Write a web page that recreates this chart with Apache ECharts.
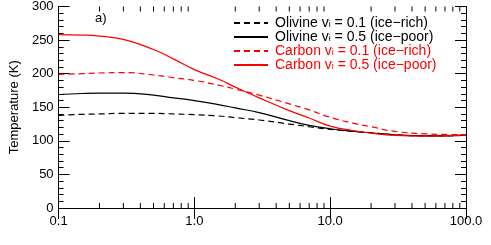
<!DOCTYPE html>
<html><head><meta charset="utf-8">
<script src="https://cdn.jsdelivr.net/npm/echarts@6/dist/echarts.min.js"></script>
<style>html,body{margin:0;padding:0;background:#fff}#c{width:491px;height:245px}</style>
</head><body><div id="c"></div>
<script>
const xValues = [0.1,0.15,0.2,0.3,0.5,0.7,1,1.5,2,3,5,7,10,15,20,30,50,70,100];
const olivineRich = [138,139.5,140,141,141,140,139,137,134.5,131,125,121,117,114,112,109,107.5,107.5,108.5];
const olivinePoor = [169,170.5,171,171,168,164,160,154,149,142,130,123,118,114,112,109,107.5,107.5,108.5];
const carbonRich = [199,200,201,201.5,198,194,190,183,177,168,155,146,135,126,121,114,110.5,109.5,109];
const carbonPoor = [258,257.5,256,251,236,222,206,192,180,164,145,134,122,115,111.5,108,107,107.5,109];
const seriesNames = ['Olivine v{s|i} = 0.1 (ice\u2212rich)','Olivine v{s|i} = 0.5 (ice\u2212poor)','Carbon v{s|i} = 0.1 (ice\u2212rich)','Carbon v{s|i} = 0.5 (ice\u2212poor)'];
const seriesColors = ['#000000','#000000','#ff0000','#ff0000'];
const seriesDash = ['dashed','solid','dashed','solid'];
const seriesValues = [olivineRich, olivinePoor, carbonRich, carbonPoor];
const xMin = 0.1, xMax = 100, yMin = 0, yMax = 300;
const majorX = [0.1,1,10,100];
const majorXLabels = ['0.1','1.0','10.0','100.0'];
const minorX = [0.2,0.3,0.4,0.5,0.6,0.7,0.8,0.9,2,3,4,5,6,7,8,9,20,30,40,50,60,70,80,90];

const font = 'Liberation Sans, Arial, Helvetica, sans-serif';
const chart = echarts.init(document.getElementById('c'), null, {renderer:'canvas'});
const rich = {s:{fontSize:9, lineHeight:13, verticalAlign:'bottom', padding:[4,0,0,0], fontFamily:font}};

const dataSeries = seriesNames.map((n,i)=>({
  name:n, type:'line', symbol:'none', smooth:true, xAxisIndex:0, yAxisIndex:0,
  data: xValues.map((x,j)=>[x, seriesValues[i][j]]),
  itemStyle:{color:seriesColors[i]},
  lineStyle:{color:seriesColors[i], width:1.2, type: seriesDash[i]==='dashed'?[6,4]:'solid'}
}));

function xAx(pos){
  return {type:'log', logBase:10, min:xMin, max:xMax, position:pos,
    axisLine:{show:true, lineStyle:{color:'#000', width:1}},
    splitLine:{show:false},
    axisTick:{show:true, inside:true, length:11, lineStyle:{color:'#000', width:1}},
    minorTick:{show:false},
    axisLabel:{show: pos==='bottom', margin:7, fontFamily:font, fontSize:13, color:'#000',
      formatter:(v)=>{const k = majorX.findIndex(m=>Math.abs(Math.log10(m)-Math.log10(v))<1e-6); return k>=0?majorXLabels[k]:'';}}};
}
function yAx(pos, step, len, main){
  return {type:'value', min:yMin, max:yMax, interval:step, position:pos,
    axisLine:{show:main, lineStyle:{color:'#000', width:1}},
    splitLine:{show:false},
    axisTick:{show:true, inside:true, length:len, lineStyle:{color:'#000', width:1}},
    axisLabel:{show: main && pos==='left', margin:5, fontFamily:font, fontSize:13, color:'#000'},
    name: (main && pos==='left') ? 'Temperature (K)' : '', nameLocation:'middle', nameGap:33,
    nameTextStyle:{fontFamily:font, fontSize:13, color:'#000'}};
}

const option = {
  animation:false,
  grid:{left:54, right:25, top:5, bottom:37},
  title:{text:'a)', left:90, top:7, textStyle:{fontFamily:font, fontSize:13, fontWeight:'normal', color:'#000'}},
  legend:{orient:'vertical', left:228, top:11, itemWidth:34, itemHeight:10, itemGap:0,
    itemStyle:{opacity:0},
    textStyle:{fontFamily:font, fontSize:14, lineHeight:13, padding:[0,0,0,2], rich:rich},
    data: seriesNames.map((n,i)=>({name:n, textStyle:{color:seriesColors[i], rich:rich}})),
    formatter:(n)=>n},
  xAxis:[xAx('bottom'), xAx('top')],
  yAxis:[yAx('left',50,11,true), yAx('left',10,5,false), yAx('right',50,11,true), yAx('right',10,5,false)],
  series: dataSeries
};
chart.setOption(option);

// minor log ticks, positioned through the chart's own scales
const finder = {xAxisIndex:0, yAxisIndex:0};
const deco = [];
function seg(a, b){
  deco.push({type:'line', symbol:'none', silent:true, xAxisIndex:0, yAxisIndex:0,
    data:[a, b], lineStyle:{color:'#000', width:1, type:'solid'}, itemStyle:{color:'#000'}});
}
try {
  minorX.forEach(v=>{
    const pb = chart.convertToPixel(finder, [v, yMin]);
    const pt = chart.convertToPixel(finder, [v, yMax]);
    seg([v, yMin], [v, chart.convertFromPixel(finder, [pb[0], pb[1]-5])[1]]);
    seg([v, yMax], [v, chart.convertFromPixel(finder, [pt[0], pt[1]+5])[1]]);
  });
  chart.setOption({series: dataSeries.concat(deco)});
} catch(e) {}
</script></body></html>
